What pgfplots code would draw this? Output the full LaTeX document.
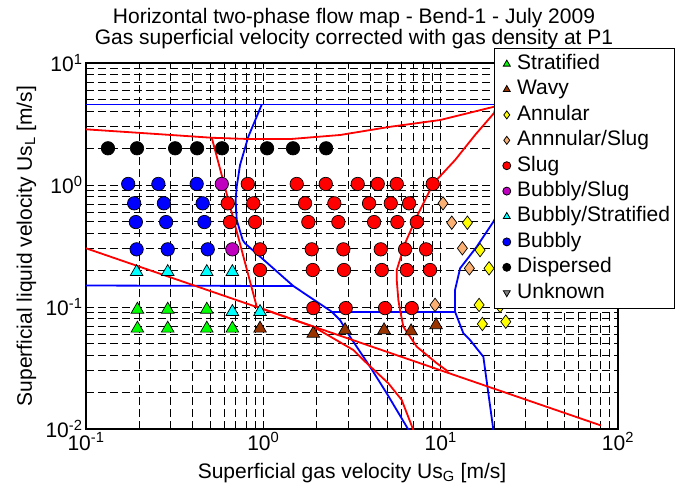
\documentclass[border=0pt]{standalone}
\usepackage{pgfplots}
\pgfplotsset{compat=1.18}
\usepackage{fontspec}
\setmainfont{Liberation Sans}
\newcommand\bigfont{\fontsize{21}{25}\selectfont}

\definecolor{strat}{rgb}{0,1,0}
\definecolor{wavy}{rgb}{0.6,0.2,0}
\definecolor{annul}{rgb}{1,1,0}
\definecolor{annslug}{rgb}{0.98,0.69,0.45}
\definecolor{bslug}{rgb}{0.75,0,0.75}
\definecolor{bstrat}{rgb}{0,1,1}

\pgfplotsset{
  circ/.style={forget plot, only marks, mark=*, mark size=6.7pt,
    mark options={fill=#1, draw=black, line width=0.7pt}},
  tri/.style={forget plot, only marks, mark=triangle*, mark size=7.3pt,
    mark options={fill=#1, draw=black, line width=0.7pt}},
  dia/.style={forget plot, only marks, mark=diamond*, mark size=6.7pt,
    mark options={fill=#1, draw=black, line width=0.7pt}},
  bnd/.style={forget plot, #1, line width=1.8pt, mark=none},
}

\begin{document}
\begin{tikzpicture}
\path[use as bounding box] (-86pt,-62pt) rectangle (599pt,429pt);
\begin{axis}[
  at={(0pt,0pt)}, anchor=south west,
  width=532pt, height=366pt, scale only axis,
  xmode=log, ymode=log,
  xmin=0.1, xmax=100, ymin=0.01, ymax=10,
  xtick={0.1,1,10,100},
  xticklabels={10\textsuperscript{-1},10\textsuperscript{0},10\textsuperscript{1},10\textsuperscript{2}},
  ytick={0.01,0.1,1,10},
  yticklabels={10\textsuperscript{-2},10\textsuperscript{-1},10\textsuperscript{0},10\textsuperscript{1}},
  minor xtick={0.2,0.3,0.4,0.5,0.6,0.7,0.8,0.9,2,3,4,5,6,7,8,9,20,30,40,50,60,70,80,90},
  minor ytick={0.02,0.03,0.04,0.05,0.06,0.07,0.08,0.09,0.2,0.3,0.4,0.5,0.6,0.7,0.8,0.9,2,3,4,5,6,7,8,9},
  grid=both,
  major grid style={black, line width=0.8pt, dash pattern=on 8pt off 4pt},
  minor grid style={black, line width=0.8pt, dash pattern=on 8pt off 4pt},
  tick align=inside, major tick length=6pt, minor tick length=3pt,
  every tick/.style={black, line width=0.8pt},
  axis line style={line width=1.5pt},
  tick label style={font=\bigfont},
  label style={font=\bigfont},
  xlabel={Superficial gas velocity Us\textsubscript{G} [m/s]},
  ylabel={Superficial liquid velocity Us\textsubscript{L} [m/s]},
  xlabel style={at={(axis description cs:0.5,-0.134)}, anchor=base},
  ylabel style={at={(axis description cs:-0.1015,0.5)}, anchor=base},
  legend style={at={(0.7669,1.041)}, anchor=north west,
    draw=black, line width=0.8pt, fill=white, font=\bigfont,
    inner xsep=2pt, inner ysep=3pt, row sep=0pt, column sep=0pt,
    nodes={inner xsep=2pt, inner ysep=2pt, text height=16pt, text depth=5.4pt}},
  legend cell align=left,
  legend image code/.code={\path (0pt,0pt) (18pt,0pt);
    \draw[#1, mark size=4pt] plot coordinates {(10pt,0pt)};},
]

% transition boundaries (blue)
\addplot[bnd=blue] coordinates {(0.1,4.57) (20.6,4.57)};
\addplot[bnd=blue] coordinates {(0.98,4.57) (0.823,2.49) (0.739,1.459) (0.708,0.968)
  (0.698,0.754) (0.708,0.517) (0.765,0.354) (0.788,0.333) (1.476,0.1486) (2.431,0.0915)
  (2.707,0.0782) (3.083,0.0571) (3.998,0.0324) (4.966,0.0196) (6.6,0.0098)};
\addplot[bnd=blue] coordinates {(0.1,0.15) (1.476,0.1486)};
\addplot[bnd=blue] coordinates {(2.431,0.0905) (12.05,0.0905)};
\addplot[bnd=blue] coordinates {(20.5,0.55) (19.83,0.5) (15.98,0.312) (12.87,0.2075)
  (12.05,0.1378) (12.05,0.0915) (13.43,0.0609) (14.65,0.0536) (17.41,0.0391) (19.83,0.0098)};

% transition boundaries (red)
\addplot[bnd=red] coordinates {(0.1,2.86) (0.23,2.64) (0.512,2.44) (0.841,2.38) (1.415,2.38)
  (2.707,2.57) (5.18,3.0) (9.93,3.41) (20.0,4.38) (20.6,4.57)};
\addplot[bnd=red] coordinates {(0.512,2.44) (0.918,0.1006) (1.914,0.069) (3.219,0.0444)
  (3.664,0.0368) (5.07,0.0237) (6.03,0.0173) (7.015,0.0098)};
\addplot[bnd=red] coordinates {(20.6,4.57) (20.0,3.89) (15.63,2.57) (12.05,1.60) (9.1,1.03)
  (8.17,0.754) (7.33,0.55) (6.30,0.333) (5.655,0.201) (5.655,0.166) (5.774,0.114)
  (5.90,0.0945) (6.16,0.069) (7.33,0.0473) (9.51,0.0346) (11.05,0.0295)};
\addplot[bnd=red] coordinates {(0.1,0.303) (80,0.0107)};

% observed flow patterns
\addplot[circ=black] coordinates {(0.133,2.0) (0.194,2.0) (0.318,2.0) (0.423,2.0)
  (0.585,2.0) (1.05,2.0) (1.47,2.0) (2.26,2.0)};
\addplot[circ=blue] coordinates {(0.173,1.02) (0.256,1.02) (0.421,1.02)
  (0.187,0.708) (0.275,0.708) (0.455,0.708) (0.191,0.497) (0.283,0.497) (0.465,0.497)
  (0.193,0.297) (0.289,0.297) (0.486,0.297)};
\addplot[circ=bslug] coordinates {(0.583,1.02) (0.669,0.297)};
\addplot[circ=red] coordinates {
  (0.817,1.02) (1.543,1.02) (2.249,1.02) (3.407,1.02) (4.418,1.02) (5.655,1.02) (9.02,1.02)
  (0.630,0.708) (0.878,0.708) (1.719,0.708) (2.514,0.708) (3.947,0.708) (5.232,0.708) (6.634,0.708)
  (0.649,0.497) (0.898,0.497) (1.794,0.497) (2.648,0.497) (4.212,0.497) (5.70,0.497) (7.333,0.497)
  (0.958,0.297) (1.875,0.297) (2.827,0.297) (4.594,0.297) (6.298,0.297) (8.275,0.297)
  (0.958,0.201) (1.90,0.201) (2.852,0.201) (4.654,0.201) (6.44,0.201) (8.714,0.201)
  (1.914,0.098) (2.916,0.098) (4.858,0.098) (6.871,0.098)};
\addplot[tri=bstrat] coordinates {(0.193,0.194) (0.289,0.194) (0.480,0.194) (0.669,0.194)
  (0.669,0.0913) (0.958,0.0913)};
\addplot[tri=strat] coordinates {(0.195,0.0954) (0.289,0.0954) (0.480,0.0954)
  (0.195,0.0667) (0.289,0.0667) (0.480,0.0667) (0.669,0.0667)};
\addplot[tri=wavy] coordinates {(0.958,0.0667) (1.914,0.0606) (2.889,0.0647) (4.796,0.0647)
  (6.81,0.0634) (9.419,0.0711)};
\addplot[dia=annslug] coordinates {(10.31,0.708) (11.55,0.491) (13.26,0.303) (14.52,0.2075)
  (9.298,0.104)};
\addplot[dia=annul] coordinates {(14.15,0.491) (16.68,0.293) (18.75,0.2075) (16.47,0.104)
  (21.63,0.102) (17.19,0.0726) (23.29,0.0758)};

% legend
\addlegendimage{only marks, mark=triangle*, mark options={fill=strat, draw=black}}
\addlegendentry{Stratified}
\addlegendimage{only marks, mark=triangle*, mark options={fill=wavy, draw=black}}
\addlegendentry{Wavy}
\addlegendimage{only marks, mark=diamond*, mark options={fill=annul, draw=black}}
\addlegendentry{Annular}
\addlegendimage{only marks, mark=diamond*, mark options={fill=annslug, draw=black}}
\addlegendentry{Annnular/Slug}
\addlegendimage{only marks, mark=*, mark options={fill=red, draw=black}}
\addlegendentry{Slug}
\addlegendimage{only marks, mark=*, mark options={fill=bslug, draw=black}}
\addlegendentry{Bubbly/Slug}
\addlegendimage{only marks, mark=triangle*, mark options={fill=bstrat, draw=black}}
\addlegendentry{Bubbly/Stratified}
\addlegendimage{only marks, mark=*, mark options={fill=blue, draw=black}}
\addlegendentry{Bubbly}
\addlegendimage{only marks, mark=*, mark options={fill=black, draw=black}}
\addlegendentry{Dispersed}
\addlegendimage{only marks, mark=triangle*, mark options={rotate=180, fill=gray, draw=black}}
\addlegendentry{Unknown}
\end{axis}
\node[anchor=base, font=\bigfont] at (268pt,405pt) {Horizontal two-phase flow map - Bend-1 - July 2009};
\node[anchor=base, font=\bigfont] at (268pt,384pt) {Gas superficial velocity corrected with gas density at P1};
\end{tikzpicture}
\end{document}
